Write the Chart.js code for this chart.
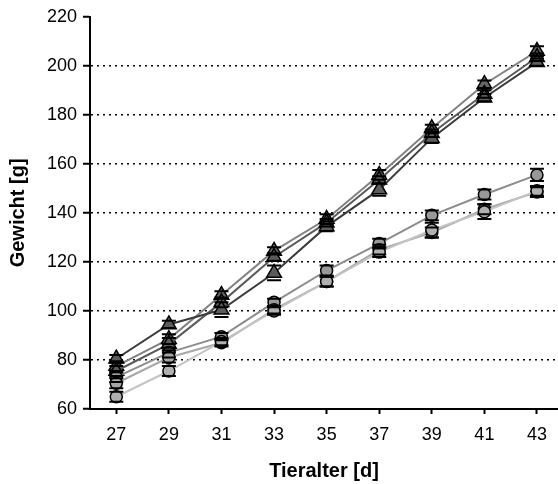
<!DOCTYPE html>
<html>
<head>
<meta charset="utf-8">
<script src="https://cdn.jsdelivr.net/npm/chart.js@4"></script>
<style>
  body { margin: 0; background: #fff; overflow: hidden; }
</style>
</head>
<body>
<canvas id="chart-canvas" width="558" height="484"></canvas>
<script>
const ages = [27, 29, 31, 33, 35, 37, 39, 41, 43];

// triangle groups
const tri1 = [80.5, 94.5, 100.5, 115.5, 134.5, 149.5, 170.5, 187, 201.5];
const tri1Err = [1.5, 1.5, 3, 3, 2, 2.5, 2, 1.5, 1.5];
const tri2 = [77.5, 88.5, 106.5, 124.5, 137.5, 155.5, 174.5, 192.5, 206];
const tri2Err = [2, 2, 1.5, 1.5, 2, 2, 1.5, 1.5, 2];
const tri3 = [75.5, 86.5, 103.5, 122, 136, 153.5, 172.5, 188.5, 203.5];
const tri3Err = [2, 2.5, 2, 1.5, 1.5, 1.5, 1.5, 1.5, 1.5];

// circle groups
const circ1 = [73, 83, 89.5, 103.5, 116.5, 127.5, 139, 147.5, 155.5];
const circ1Err = [2, 2, 1.5, 1.5, 2, 2, 2, 2, 2.5];
const circ2 = [65, 75.5, 87.5, 100, 112, 124, 133, 140.5, 149];
const circ2Err = [2, 2, 1.5, 1.5, 2, 2, 3, 3, 2];
const circ3 = [70.5, 81, 87, 100.5, 112, 125, 132, 141.5, 148.5];
const circ3Err = [2, 2, 1.5, 1.5, 2, 2, 2, 2, 2];

const font = "'Liberation Sans', Arial, sans-serif";

function series(values, errs, lineColor, fill, style, radius) {
  return {
    data: ages.map((a, i) => ({ x: a, y: values[i] })),
    errors: errs,
    borderColor: lineColor,
    borderWidth: 2,
    pointStyle: style,
    pointRadius: radius,
    pointBackgroundColor: fill,
    pointBorderColor: "#000",
    pointBorderWidth: 1.5,
    fill: false,
    tension: 0
  };
}

const errorBars = {
  id: "errorBars",
  afterDatasetsDraw(chart) {
    const ctx = chart.ctx;
    const yScale = chart.scales.y;
    ctx.save();
    ctx.strokeStyle = "#000";
    ctx.lineWidth = 2;
    chart.data.datasets.forEach((ds, di) => {
      const meta = chart.getDatasetMeta(di);
      meta.data.forEach((pt, i) => {
        const v = ds.data[i].y;
        const e = ds.errors[i];
        const top = yScale.getPixelForValue(v + e);
        const bot = yScale.getPixelForValue(v - e);
        const x = pt.x;
        const r = ds.pointRadius;
        ctx.beginPath();
        if (pt.y - top > r) { ctx.moveTo(x, top); ctx.lineTo(x, pt.y - r); }
        if (bot - pt.y > r) { ctx.moveTo(x, pt.y + r); ctx.lineTo(x, bot); }
        ctx.moveTo(x - 7, top); ctx.lineTo(x + 7, top);
        ctx.moveTo(x - 7, bot); ctx.lineTo(x + 7, bot);
        ctx.stroke();
      });
    });
    ctx.restore();
  }
};

const config = {
  type: "line",
  data: {
    datasets: [
      series(circ2, circ2Err, "#c4c4c4", "#b0b0b0", "circle", 6),
      series(circ3, circ3Err, "#a8a8a8", "#a6a6a6", "circle", 6),
      series(circ1, circ1Err, "#8c8c8c", "#999999", "circle", 6),
      series(tri1, tri1Err, "#3c3c3c", "#5c5c5c", "triangle", 8.5),
      series(tri3, tri3Err, "#5a5a5a", "#5c5c5c", "triangle", 8.5),
      series(tri2, tri2Err, "#828282", "#666666", "triangle", 8.5)
    ]
  },
  options: {
    responsive: false,
    animation: false,
    layout: { autoPadding: false, padding: { top: 15, right: 0, left: 0, bottom: 0 } },
    plugins: { legend: { display: false }, tooltip: { enabled: false } },
    scales: {
      x: {
        type: "linear",
        min: 26,
        max: 43.8,
        afterBuildTicks: (scale) => { scale.ticks = ages.map(v => ({ value: v })); },
        afterFit: (scale) => { scale.height = 75; scale.paddingLeft = 0; scale.paddingRight = 0; },
        grid: { drawOnChartArea: false, tickLength: 5, tickColor: "#000", tickWidth: 2 },
        border: { color: "#000", width: 2 },
        ticks: { color: "#000", font: { family: font, size: 18 }, padding: 10, maxRotation: 0 },
        title: {
          display: true,
          text: "Tieralter [d]",
          color: "#000",
          font: { family: font, size: 20, weight: "bold" },
          padding: { top: 0, bottom: 1 }
        }
      },
      y: {
        min: 60,
        max: 220,
        afterFit: (scale) => { scale.width = 90; },
        grid: {
          color: (c) => (c.tick && (c.tick.value === 220 || c.tick.value === 60)) ? "rgba(0,0,0,0)" : "#000",
          lineWidth: 1.5,
          tickLength: 7,
          tickColor: "#000",
          tickWidth: 2,
          tickBorderDash: []
        },
        border: { color: "#000", width: 2, dash: [2, 4] },
        ticks: { stepSize: 20, color: "#000", font: { family: font, size: 18 }, padding: 6 },
        title: {
          display: true,
          text: "Gewicht [g]",
          color: "#000",
          font: { family: font, size: 20, weight: "bold" },
          padding: { top: 6, bottom: 0 }
        }
      }
    }
  },
  plugins: [errorBars]
};

const myChart = new Chart(document.getElementById("chart-canvas"), config);
</script>
</body>
</html>
